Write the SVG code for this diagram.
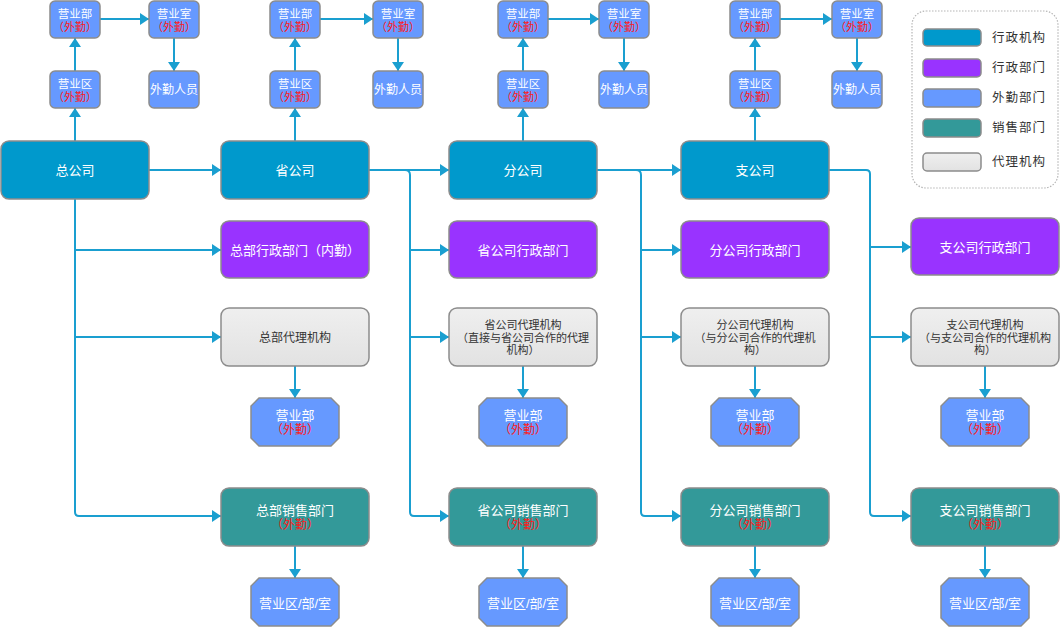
<svg xmlns="http://www.w3.org/2000/svg" width="1060" height="627" viewBox="0 0 1060 627">
  <defs>
    <marker id="arr" markerUnits="userSpaceOnUse" markerWidth="10" markerHeight="12" refX="9" refY="6" orient="auto">
      <path d="M0,0 L9,6 L0,12 z" fill="#1a9fd0"/>
    </marker>
    <linearGradient id="gAgent" x1="0" y1="0" x2="0" y2="1">
      <stop offset="0" stop-color="#efefef"/>
      <stop offset="1" stop-color="#e2e2e2"/>
    </linearGradient>
  </defs>
  <style>
    text { font-family: "Liberation Sans", "Noto Sans CJK SC", sans-serif; text-anchor: middle; }
    .box { stroke: #8c8c8c; stroke-width: 1.5; }
    .org { fill: #0099cc; }
    .adm { fill: #9933ff; }
    .fld { fill: #6699ff; }
    .sal { fill: #339999; }
    .agt { fill: url(#gAgent); }
    .w { fill: #ffffff; }
    .r { fill: #ff1a1a; }
    .d { fill: #333333; }
    .f13 { font-size: 13px; }
    .f12 { font-size: 12px; }
    .f115 { font-size: 11.5px; }
    .f11 { font-size: 11px; }
    .conn path { fill: none; stroke: #1a9fd0; stroke-width: 2; }
    .lg { font-size: 12.5px; fill: #333; text-anchor: start; letter-spacing: 1px; }
  </style>

  <!-- connectors -->
  <g id="connectors" class="conn">
    <!-- column 1 -->
    <path d="M149,170 H221" marker-end="url(#arr)"/>
    <path d="M75,199 V512 Q75,516 79,516 H221" marker-end="url(#arr)"/>
    <path d="M75,250 H221" marker-end="url(#arr)"/>
    <path d="M75,337 H221" marker-end="url(#arr)"/>
    <path d="M75,141 V108" marker-end="url(#arr)"/>
    <path d="M75,71 V38" marker-end="url(#arr)"/>
    <path d="M100,19 H149" marker-end="url(#arr)"/>
    <path d="M174,38 V71" marker-end="url(#arr)"/>
    <path d="M295,366 V398" marker-end="url(#arr)"/>
    <path d="M295,546 V578" marker-end="url(#arr)"/>
    <!-- column 2 -->
    <path d="M369,170 H449" marker-end="url(#arr)"/>
    <path d="M405,170 Q410,170 410,175 V512 Q410,516 414,516 H449" marker-end="url(#arr)"/>
    <path d="M410,250 H449" marker-end="url(#arr)"/>
    <path d="M410,337 H449" marker-end="url(#arr)"/>
    <path d="M295,141 V108" marker-end="url(#arr)"/>
    <path d="M295,71 V38" marker-end="url(#arr)"/>
    <path d="M320,19 H373" marker-end="url(#arr)"/>
    <path d="M398,38 V71" marker-end="url(#arr)"/>
    <path d="M523,366 V398" marker-end="url(#arr)"/>
    <path d="M523,546 V578" marker-end="url(#arr)"/>
    <!-- column 3 -->
    <path d="M597,170 H681" marker-end="url(#arr)"/>
    <path d="M636,170 Q641,170 641,175 V512 Q641,516 645,516 H681" marker-end="url(#arr)"/>
    <path d="M641,250 H681" marker-end="url(#arr)"/>
    <path d="M641,337 H681" marker-end="url(#arr)"/>
    <path d="M523,141 V108" marker-end="url(#arr)"/>
    <path d="M523,71 V38" marker-end="url(#arr)"/>
    <path d="M548,19 H599" marker-end="url(#arr)"/>
    <path d="M624,38 V71" marker-end="url(#arr)"/>
    <path d="M755,366 V398" marker-end="url(#arr)"/>
    <path d="M755,546 V578" marker-end="url(#arr)"/>
    <!-- column 4 -->
    <path d="M829,170 H866 Q870,170 870,174 V512 Q870,516 874,516 H911" marker-end="url(#arr)"/>
    <path d="M870,247 H911" marker-end="url(#arr)"/>
    <path d="M870,337 H911" marker-end="url(#arr)"/>
    <path d="M755,141 V108" marker-end="url(#arr)"/>
    <path d="M755,71 V38" marker-end="url(#arr)"/>
    <path d="M780,19 H832" marker-end="url(#arr)"/>
    <path d="M857,38 V71" marker-end="url(#arr)"/>
    <path d="M985,366 V398" marker-end="url(#arr)"/>
    <path d="M985,546 V578" marker-end="url(#arr)"/>
  </g>

  <!-- column 1: head office -->
  <g id="hq">
    <rect class="box org" x="1" y="141" width="148" height="58" rx="8"/>
    <text class="w f13" x="75" y="175">总公司</text>
  </g>
  <g id="hq-zone">
    <rect class="box fld" x="50" y="71" width="50" height="37" rx="5"/>
    <text class="w f115" x="75" y="88">营业区<tspan class="r f11" x="75" dy="12.5">（外勤）</tspan></text>
  </g>
  <g id="hq-dept">
    <rect class="box fld" x="50" y="1" width="50" height="37" rx="5"/>
    <text class="w f115" x="75" y="18">营业部<tspan class="r f11" x="75" dy="12.5">（外勤）</tspan></text>
  </g>
  <g id="hq-room">
    <rect class="box fld" x="149" y="1" width="50" height="37" rx="5"/>
    <text class="w f115" x="174" y="18">营业室<tspan class="r f11" x="174" dy="12.5">（外勤）</tspan></text>
  </g>
  <g id="hq-staff">
    <rect class="box fld" x="149" y="71" width="50" height="37" rx="5"/>
    <text class="w f12" x="174" y="94">外勤人员</text>
  </g>
  <g id="hq-admin">
    <rect class="box adm" x="221" y="221" width="148" height="57" rx="8"/>
    <text class="w f13" x="295" y="255">总部行政部门（内勤）</text>
  </g>
  <g id="hq-agent">
    <rect class="box agt" x="221" y="308" width="148" height="58" rx="8"/>
    <text class="d f12" x="295" y="342">总部代理机构</text>
  </g>
  <g id="hq-agent-dept">
    <polygon class="box fld" points="259,398 331,398 339,406 339,438 331,446 259,446 251,438 251,406"/>
    <text class="w f13" x="295" y="420">营业部<tspan class="r f12" x="295" dy="14">（外勤）</tspan></text>
  </g>
  <g id="hq-sales">
    <rect class="box sal" x="221" y="488" width="148" height="58" rx="8"/>
    <text class="w f13" x="295" y="515">总部销售部门<tspan class="r f12" x="295" dy="14">（外勤）</tspan></text>
  </g>
  <g id="hq-sales-unit">
    <polygon class="box fld" points="259,578 331,578 339,586 339,618 331,626 259,626 251,618 251,586"/>
    <text class="w f13" x="295" y="608">营业区/部/室</text>
  </g>

  <!-- column 2: provincial company -->
  <g id="prov">
    <rect class="box org" x="221" y="141" width="148" height="58" rx="8"/>
    <text class="w f13" x="295" y="175">省公司</text>
  </g>
  <g id="prov-zone">
    <rect class="box fld" x="270" y="71" width="50" height="37" rx="5"/>
    <text class="w f115" x="295" y="88">营业区<tspan class="r f11" x="295" dy="12.5">（外勤）</tspan></text>
  </g>
  <g id="prov-dept">
    <rect class="box fld" x="270" y="1" width="50" height="37" rx="5"/>
    <text class="w f115" x="295" y="18">营业部<tspan class="r f11" x="295" dy="12.5">（外勤）</tspan></text>
  </g>
  <g id="prov-room">
    <rect class="box fld" x="373" y="1" width="50" height="37" rx="5"/>
    <text class="w f115" x="398" y="18">营业室<tspan class="r f11" x="398" dy="12.5">（外勤）</tspan></text>
  </g>
  <g id="prov-staff">
    <rect class="box fld" x="373" y="71" width="50" height="37" rx="5"/>
    <text class="w f12" x="398" y="94">外勤人员</text>
  </g>
  <g id="prov-admin">
    <rect class="box adm" x="449" y="221" width="148" height="57" rx="8"/>
    <text class="w f13" x="523" y="255">省公司行政部门</text>
  </g>
  <g id="prov-agent">
    <rect class="box agt" x="449" y="308" width="148" height="58" rx="8"/>
    <text class="d f11" x="523" y="329">省公司代理机构<tspan x="523" dy="12.5">（直接与省公司合作的代理</tspan><tspan x="523" dy="12.5">机构）</tspan></text>
  </g>
  <g id="prov-agent-dept">
    <polygon class="box fld" points="487,398 559,398 567,406 567,438 559,446 487,446 479,438 479,406"/>
    <text class="w f13" x="523" y="420">营业部<tspan class="r f12" x="523" dy="14">（外勤）</tspan></text>
  </g>
  <g id="prov-sales">
    <rect class="box sal" x="449" y="488" width="148" height="58" rx="8"/>
    <text class="w f13" x="523" y="515">省公司销售部门<tspan class="r f12" x="523" dy="14">（外勤）</tspan></text>
  </g>
  <g id="prov-sales-unit">
    <polygon class="box fld" points="487,578 559,578 567,586 567,618 559,626 487,626 479,618 479,586"/>
    <text class="w f13" x="523" y="608">营业区/部/室</text>
  </g>

  <!-- column 3: branch company -->
  <g id="branch">
    <rect class="box org" x="449" y="141" width="148" height="58" rx="8"/>
    <text class="w f13" x="523" y="175">分公司</text>
  </g>
  <g id="branch-zone">
    <rect class="box fld" x="498" y="71" width="50" height="37" rx="5"/>
    <text class="w f115" x="523" y="88">营业区<tspan class="r f11" x="523" dy="12.5">（外勤）</tspan></text>
  </g>
  <g id="branch-dept">
    <rect class="box fld" x="498" y="1" width="50" height="37" rx="5"/>
    <text class="w f115" x="523" y="18">营业部<tspan class="r f11" x="523" dy="12.5">（外勤）</tspan></text>
  </g>
  <g id="branch-room">
    <rect class="box fld" x="599" y="1" width="50" height="37" rx="5"/>
    <text class="w f115" x="624" y="18">营业室<tspan class="r f11" x="624" dy="12.5">（外勤）</tspan></text>
  </g>
  <g id="branch-staff">
    <rect class="box fld" x="599" y="71" width="50" height="37" rx="5"/>
    <text class="w f12" x="624" y="94">外勤人员</text>
  </g>
  <g id="branch-admin">
    <rect class="box adm" x="681" y="221" width="148" height="57" rx="8"/>
    <text class="w f13" x="755" y="255">分公司行政部门</text>
  </g>
  <g id="branch-agent">
    <rect class="box agt" x="681" y="308" width="148" height="58" rx="8"/>
    <text class="d f11" x="755" y="329">分公司代理机构<tspan x="755" dy="12.5">（与分公司合作的代理机</tspan><tspan x="755" dy="12.5">构）</tspan></text>
  </g>
  <g id="branch-agent-dept">
    <polygon class="box fld" points="719,398 791,398 799,406 799,438 791,446 719,446 711,438 711,406"/>
    <text class="w f13" x="755" y="420">营业部<tspan class="r f12" x="755" dy="14">（外勤）</tspan></text>
  </g>
  <g id="branch-sales">
    <rect class="box sal" x="681" y="488" width="148" height="58" rx="8"/>
    <text class="w f13" x="755" y="515">分公司销售部门<tspan class="r f12" x="755" dy="14">（外勤）</tspan></text>
  </g>
  <g id="branch-sales-unit">
    <polygon class="box fld" points="719,578 791,578 799,586 799,618 791,626 719,626 711,618 711,586"/>
    <text class="w f13" x="755" y="608">营业区/部/室</text>
  </g>

  <!-- column 4: sub-branch company -->
  <g id="sub">
    <rect class="box org" x="681" y="141" width="148" height="58" rx="8"/>
    <text class="w f13" x="755" y="175">支公司</text>
  </g>
  <g id="sub-zone">
    <rect class="box fld" x="730" y="71" width="50" height="37" rx="5"/>
    <text class="w f115" x="755" y="88">营业区<tspan class="r f11" x="755" dy="12.5">（外勤）</tspan></text>
  </g>
  <g id="sub-dept">
    <rect class="box fld" x="730" y="1" width="50" height="37" rx="5"/>
    <text class="w f115" x="755" y="18">营业部<tspan class="r f11" x="755" dy="12.5">（外勤）</tspan></text>
  </g>
  <g id="sub-room">
    <rect class="box fld" x="832" y="1" width="50" height="37" rx="5"/>
    <text class="w f115" x="857" y="18">营业室<tspan class="r f11" x="857" dy="12.5">（外勤）</tspan></text>
  </g>
  <g id="sub-staff">
    <rect class="box fld" x="832" y="71" width="50" height="37" rx="5"/>
    <text class="w f12" x="857" y="94">外勤人员</text>
  </g>
  <g id="sub-admin">
    <rect class="box adm" x="911" y="218" width="148" height="57" rx="8"/>
    <text class="w f13" x="985" y="252">支公司行政部门</text>
  </g>
  <g id="sub-agent">
    <rect class="box agt" x="911" y="308" width="148" height="58" rx="8"/>
    <text class="d f11" x="985" y="329">支公司代理机构<tspan x="985" dy="12.5">（与支公司合作的代理机构</tspan><tspan x="985" dy="12.5">构）</tspan></text>
  </g>
  <g id="sub-agent-dept">
    <polygon class="box fld" points="949,398 1021,398 1029,406 1029,438 1021,446 949,446 941,438 941,406"/>
    <text class="w f13" x="985" y="420">营业部<tspan class="r f12" x="985" dy="14">（外勤）</tspan></text>
  </g>
  <g id="sub-sales">
    <rect class="box sal" x="911" y="488" width="148" height="58" rx="8"/>
    <text class="w f13" x="985" y="515">支公司销售部门<tspan class="r f12" x="985" dy="14">（外勤）</tspan></text>
  </g>
  <g id="sub-sales-unit">
    <polygon class="box fld" points="949,578 1021,578 1029,586 1029,618 1021,626 949,626 941,618 941,586"/>
    <text class="w f13" x="985" y="608">营业区/部/室</text>
  </g>

  <!-- legend -->
  <g id="legend">
    <rect x="912" y="11" width="146" height="177" rx="14" fill="#ffffff" stroke="#b5b5b5" stroke-width="1.2" stroke-dasharray="1.5 1.5"/>
    <rect class="box org" x="923" y="29" width="58" height="17" rx="4"/>
    <text class="lg" x="992" y="42">行政机构</text>
    <rect class="box adm" x="923" y="59" width="58" height="18" rx="4"/>
    <text class="lg" x="992" y="72">行政部门</text>
    <rect class="box fld" x="923" y="89" width="58" height="18" rx="4"/>
    <text class="lg" x="992" y="102">外勤部门</text>
    <rect class="box sal" x="923" y="119" width="58" height="18" rx="4"/>
    <text class="lg" x="992" y="132">销售部门</text>
    <rect class="box agt" x="923" y="153" width="58" height="18" rx="4"/>
    <text class="lg" x="992" y="166">代理机构</text>
  </g>
</svg>
